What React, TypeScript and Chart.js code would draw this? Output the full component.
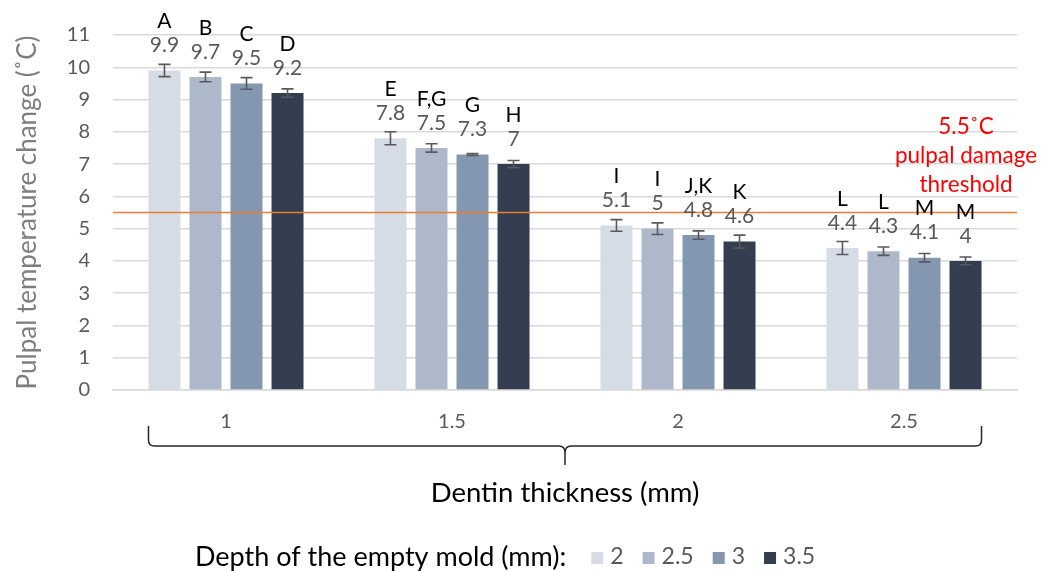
import React, { useEffect, useRef } from "react";
import { Chart, registerables } from "chart.js";

Chart.register(...registerables);

// ---------- data ----------
const categories = ["1", "1.5", "2", "2.5"];
const seriesLabels = ["2", "2.5", "3", "3.5"];
const depth2 = [9.9, 7.8, 5.1, 4.4];
const depth25 = [9.7, 7.5, 5.0, 4.3];
const depth3 = [9.5, 7.3, 4.8, 4.1];
const depth35 = [9.2, 7.0, 4.6, 4.0];
const err2 = [0.19, 0.2, 0.18, 0.2];
const err25 = [0.15, 0.13, 0.18, 0.13];
const err3 = [0.18, 0.03, 0.13, 0.13];
const err35 = [0.13, 0.11, 0.2, 0.12];
const letters2 = ["A", "E", "I", "L"];
const letters25 = ["B", "F,G", "I", "L"];
const letters3 = ["C", "G", "J,K", "M"];
const letters35 = ["D", "H", "K", "M"];
const yTickValues = [0, 1, 2, 3, 4, 5, 6, 7, 8, 9, 10, 11];
const THRESHOLD = 5.5;
const thresholdText = ["5.5˚C", "pulpal damage", "threshold"];
const xTitle = "Dentin thickness (mm)";
const yTitle = "Pulpal temperature change (˚C)";
const legendTitle = "Depth of the empty mold (mm):";

const seriesValues = [depth2, depth25, depth3, depth35];
const seriesErrors = [err2, err25, err3, err35];
const seriesLetters = [letters2, letters25, letters3, letters35];
const colors = ["#D6DCE5", "#ADB9CA", "#8497B0", "#333F50"];

const FONT = "Lato, 'Open Sans', sans-serif";

const overlayPlugin = {
  id: "overlay",
  afterDatasetsDraw(chart: any) {
    const ctx = chart.ctx;
    const y = chart.scales.y;
    const area = chart.chartArea;
    ctx.save();
    // error bars
    chart.data.datasets.forEach((ds: any, di: number) => {
      const meta = chart.getDatasetMeta(di);
      meta.data.forEach((bar: any, i: number) => {
        const v = ds.data[i];
        const e = ds.errors[i];
        const yt = y.getPixelForValue(v + e);
        const yb = y.getPixelForValue(v - e);
        ctx.strokeStyle = "#595959";
        ctx.lineWidth = 1.6;
        ctx.beginPath();
        ctx.moveTo(bar.x, yt);
        ctx.lineTo(bar.x, yb);
        ctx.moveTo(bar.x - 6, yt);
        ctx.lineTo(bar.x + 6, yt);
        ctx.moveTo(bar.x - 6, yb);
        ctx.lineTo(bar.x + 6, yb);
        ctx.stroke();
      });
    });
    // threshold line
    const ty = y.getPixelForValue(THRESHOLD);
    ctx.strokeStyle = "#ED7D31";
    ctx.lineWidth = 1.5;
    ctx.beginPath();
    ctx.moveTo(area.left, ty);
    ctx.lineTo(area.right, ty);
    ctx.stroke();
    // value + letter labels
    ctx.textAlign = "center";
    ctx.textBaseline = "middle";
    chart.data.datasets.forEach((ds: any, di: number) => {
      const meta = chart.getDatasetMeta(di);
      meta.data.forEach((bar: any, i: number) => {
        const vy = bar.y - 25;
        ctx.font = `21px ${FONT}`;
        ctx.fillStyle = "#595959";
        ctx.fillText(String(ds.data[i]), bar.x, vy);
        ctx.fillStyle = "#000000";
        ctx.fillText(ds.letters[i], bar.x, vy - 24);
      });
    });
    // threshold text
    ctx.fillStyle = "#FF0000";
    ctx.font = `22.5px ${FONT}`;
    const tx = area.right - 51;
    thresholdText.forEach((t, k) => {
      ctx.fillText(t, tx, ty - 86 + k * 29);
    });
    ctx.restore();
  },
  afterDraw(chart: any) {
    const ctx = chart.ctx;
    const area = chart.chartArea;
    ctx.save();
    // brace
    const first = chart.getDatasetMeta(0).data[0];
    const lastMeta = chart.getDatasetMeta(chart.data.datasets.length - 1);
    const last = lastMeta.data[lastMeta.data.length - 1];
    const x0 = first.x - first.width / 2;
    const x1 = last.x + last.width / 2;
    const mid = (x0 + x1) / 2;
    const yTop = area.bottom + 36;
    const yLine = area.bottom + 56;
    const tip = area.bottom + 75;
    ctx.strokeStyle = "#262626";
    ctx.lineWidth = 1.5;
    ctx.beginPath();
    ctx.moveTo(x0, yTop);
    ctx.lineTo(x0, yLine - 6);
    ctx.quadraticCurveTo(x0, yLine, x0 + 6, yLine);
    ctx.lineTo(mid - 6, yLine);
    ctx.quadraticCurveTo(mid, yLine, mid, yLine + 7);
    ctx.lineTo(mid, tip);
    ctx.moveTo(mid, yLine + 7);
    ctx.quadraticCurveTo(mid, yLine, mid + 6, yLine);
    ctx.lineTo(x1 - 6, yLine);
    ctx.quadraticCurveTo(x1, yLine, x1, yLine - 6);
    ctx.lineTo(x1, yTop);
    ctx.stroke();
    // legend
    const ly = 557;
    let lx = 195;
    ctx.textBaseline = "middle";
    ctx.textAlign = "left";
    ctx.font = `27px ${FONT}`;
    ctx.fillStyle = "#000000";
    ctx.fillText(legendTitle, lx, ly);
    lx += ctx.measureText(legendTitle).width + 25;
    ctx.font = `23px ${FONT}`;
    chart.data.datasets.forEach((ds: any) => {
      ctx.fillStyle = ds.backgroundColor;
      ctx.fillRect(lx, ly - 5, 12, 12);
      lx += 19;
      ctx.fillStyle = "#595959";
      ctx.fillText(ds.label, lx, ly);
      lx += ctx.measureText(ds.label).width + 19;
    });
    ctx.restore();
  },
};

export default function App() {
  const ref = useRef<HTMLCanvasElement | null>(null);
  useEffect(() => {
    if (!ref.current) return;
    const chart = new Chart(ref.current, {
      type: "bar",
      data: {
        labels: categories,
        datasets: seriesLabels.map((label, i) => ({
          label,
          data: seriesValues[i],
          errors: seriesErrors[i],
          letters: seriesLetters[i],
          backgroundColor: colors[i],
          borderWidth: 0,
          categoryPercentage: 0.726,
          barPercentage: 0.78,
        })) as any,
      },
      options: {
        animation: false,
        responsive: false,
        layout: { padding: { top: 35, right: 35, left: 0, bottom: 0 } },
        plugins: { legend: { display: false }, tooltip: { enabled: false } },
        scales: {
          x: {
            grid: { display: false, drawTicks: false },
            border: { display: true, color: "#D9D9D9", width: 1.5 },
            ticks: { color: "#595959", font: { family: FONT, size: 20 }, padding: 20 },
            title: {
              display: true,
              text: xTitle,
              color: "#000000",
              font: { family: FONT, size: 27.5 },
              padding: { top: 0, bottom: 61.5 },
            },
            afterFit: (s: any) => {
              s.height = 181;
            },
          },
          y: {
            min: 0,
            max: 11,
            afterBuildTicks: (s: any) => {
              s.ticks = yTickValues.map((v) => ({ value: v }));
            },
            grid: { color: "#D9D9D9", lineWidth: 1.5, drawTicks: false },
            border: { display: false },
            ticks: { color: "#595959", font: { family: FONT, size: 20 }, padding: 23 },
            title: {
              display: true,
              text: yTitle,
              color: "#7F7F7F",
              font: { family: FONT, size: 26 },
              padding: { top: 12, bottom: 12 },
            },
            afterFit: (s: any) => {
              s.width = 113;
            },
          },
        },
      },
      plugins: [overlayPlugin],
    });
    return () => chart.destroy();
  }, []);
  return (
    <div style={{ position: "fixed", left: 0, top: 0, width: 1052, height: 571, background: "#fff" }}>
      <canvas ref={ref} width={1052} height={571} />
    </div>
  );
}
